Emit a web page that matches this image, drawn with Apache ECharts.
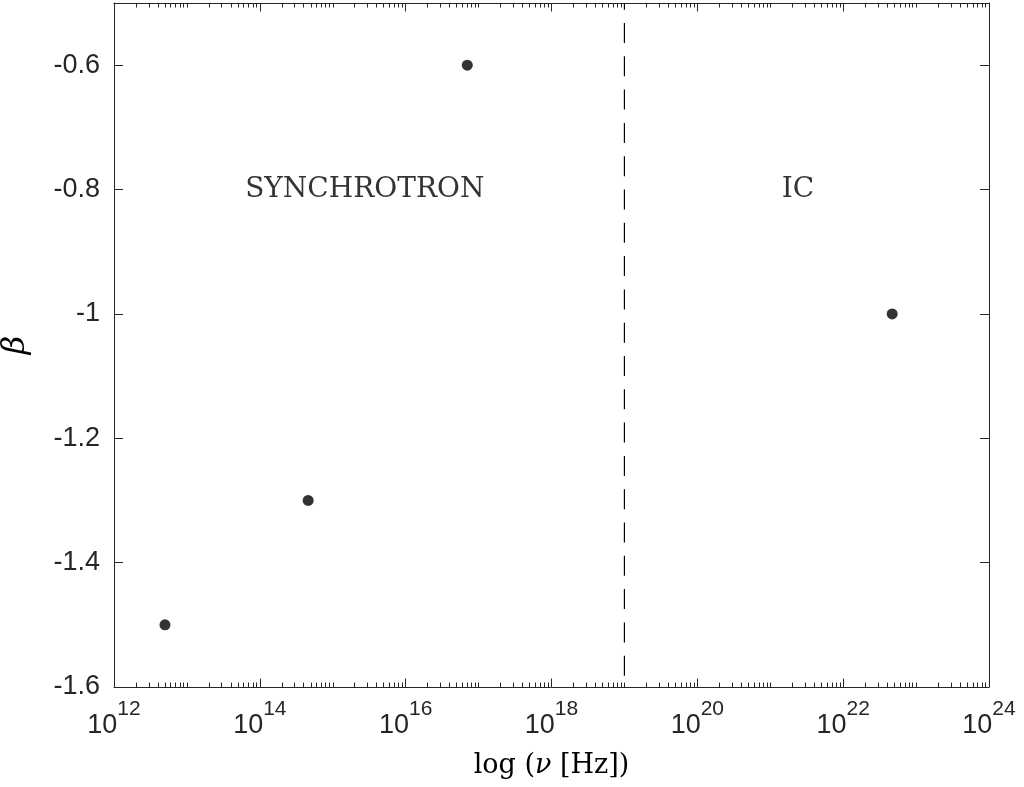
<!DOCTYPE html>
<html>
<head>
<meta charset="utf-8">
<script src="https://cdn.jsdelivr.net/npm/echarts@6/dist/echarts.min.js"></script>
<style>html,body{margin:0;padding:0;background:#fff}#c{width:1024px;height:787px}</style>
</head>
<body>
<div id="c"></div>
<script>
// ---- data ----
var freqHz = [5e12, 4.6e14, 7e16, 4.7e22];
var beta = [-1.5, -1.3, -0.6, -1.0];
var dividerHz = 1e19;
var dividerY = [-1.6, -0.5];
var annotationText = ['SYNCHROTRON', 'IC'];
var annotationHz = [2.75e15, 2.4e21];
var annotationY = [-0.8, -0.8];
var xMin = 1e12, xMax = 1e24;
var xMajorExps = [12, 14, 16, 18, 20, 22, 24];
var yTicks = [-1.6, -1.4, -1.2, -1, -0.8, -0.6];

// derived tick lists (the top end is nudged inward so float rounding of the log extent does not drop it)
var xTop = xMax * (1 - 1e-12);
var xMajorVals = xMajorExps.map(function (e) { return Math.min(Math.pow(10, e), xTop); });
var xMinorVals = [];
for (var e = 12; e < 24; e++) {
  for (var k = 2; k <= 10; k++) {
    if (k === 10 && (e + 1) % 2 === 0) continue;
    xMinorVals.push(Math.min(k * Math.pow(10, e), xTop));
  }
}

var AX = '#262626';
var sansFont = 'Liberation Sans, Arial, sans-serif';
var serifFont = 'DejaVu Serif, serif';

function xAxisCfg(pos, major, withLabels) {
  return {
    type: 'log', logBase: 10, min: xMin, max: xMax, position: pos,
    axisLine: { show: major, lineStyle: { color: AX, width: 1 } },
    splitLine: { show: false },
    axisTick: { show: true, inside: true, length: major ? 8.5 : 4.5,
      customValues: major ? xMajorVals : xMinorVals,
      lineStyle: { color: AX, width: 1 } },
    axisLabel: withLabels ? {
      show: true, margin: 12, customValues: xMajorVals,
      showMinLabel: true, showMaxLabel: true, hideOverlap: false,
      formatter: function (v) {
        var ex = Math.round(Math.log10(v));
        return '{b|10}{s|' + ex + '}';
      },
      rich: {
        b: { fontFamily: sansFont, fontSize: 27, color: AX, lineHeight: 40, verticalAlign: 'bottom' },
        s: { fontFamily: sansFont, fontSize: 21, color: AX, lineHeight: 20, verticalAlign: 'top' }
      }
    } : { show: false },
    name: withLabels ? '{n|log (}{i|ν}{n| [Hz])}' : '',
    nameLocation: 'middle', nameGap: 65,
    nameTextStyle: {
      rich: {
        n: { fontFamily: serifFont, fontSize: 27, color: '#000' },
        i: { fontFamily: serifFont, fontSize: 27, fontStyle: 'italic', color: '#000' }
      }
    }
  };
}

function yAxisCfg(pos, withLabels) {
  return {
    type: 'value', min: -1.6, max: -0.5, interval: 0.2, position: pos,
    axisLine: { show: true, onZero: false, lineStyle: { color: AX, width: 1 } },
    splitLine: { show: false },
    axisTick: { show: true, inside: true, length: 9, customValues: yTicks,
      lineStyle: { color: AX, width: 1 } },
    axisLabel: withLabels ? {
      show: true, margin: 14, customValues: yTicks,
      fontFamily: sansFont, fontSize: 27, color: AX,
      formatter: function (v) { return String(Math.round(v * 10) / 10); }
    } : { show: false },
    name: withLabels ? 'β' : '',
    nameLocation: 'middle', nameGap: 82, nameRotate: 90,
    nameTextStyle: { fontFamily: serifFont, fontSize: 32, fontStyle: 'italic', color: '#000' }
  };
}

var chart = echarts.init(document.getElementById('c'), null, { renderer: 'canvas' });
chart.setOption({
  backgroundColor: '#ffffff',
  animation: false,
  grid: { left: 114, right: 35, top: 3, bottom: 100, containLabel: false, outerBoundsMode: 'none' },
  xAxis: [
    xAxisCfg('bottom', true, true),
    xAxisCfg('bottom', false, false),
    xAxisCfg('top', true, false),
    xAxisCfg('top', false, false)
  ],
  yAxis: [yAxisCfg('left', true), yAxisCfg('right', false)],
  series: [
    {
      type: 'line', xAxisIndex: 0, yAxisIndex: 0,
      data: dividerY.map(function (y) { return [dividerHz, y]; }),
      symbol: 'none', silent: true,
      lineStyle: { color: '#000', width: 1.2, type: [20, 13.3], dashOffset: 22 }
    },
    {
      type: 'scatter', xAxisIndex: 0, yAxisIndex: 0,
      data: freqHz.map(function (f, i) { return [f, beta[i]]; }),
      symbol: 'circle', symbolSize: 11,
      itemStyle: { color: '#000' }
    },
    {
      type: 'scatter', xAxisIndex: 0, yAxisIndex: 0, silent: true,
      data: annotationHz.map(function (f, i) { return { value: [f, annotationY[i]], name: annotationText[i] }; }),
      symbolSize: 0,
      label: { show: true, position: 'inside', formatter: '{b}',
        fontFamily: serifFont, fontSize: 28, color: '#000' }
    }
  ]
});
</script>
</body>
</html>
